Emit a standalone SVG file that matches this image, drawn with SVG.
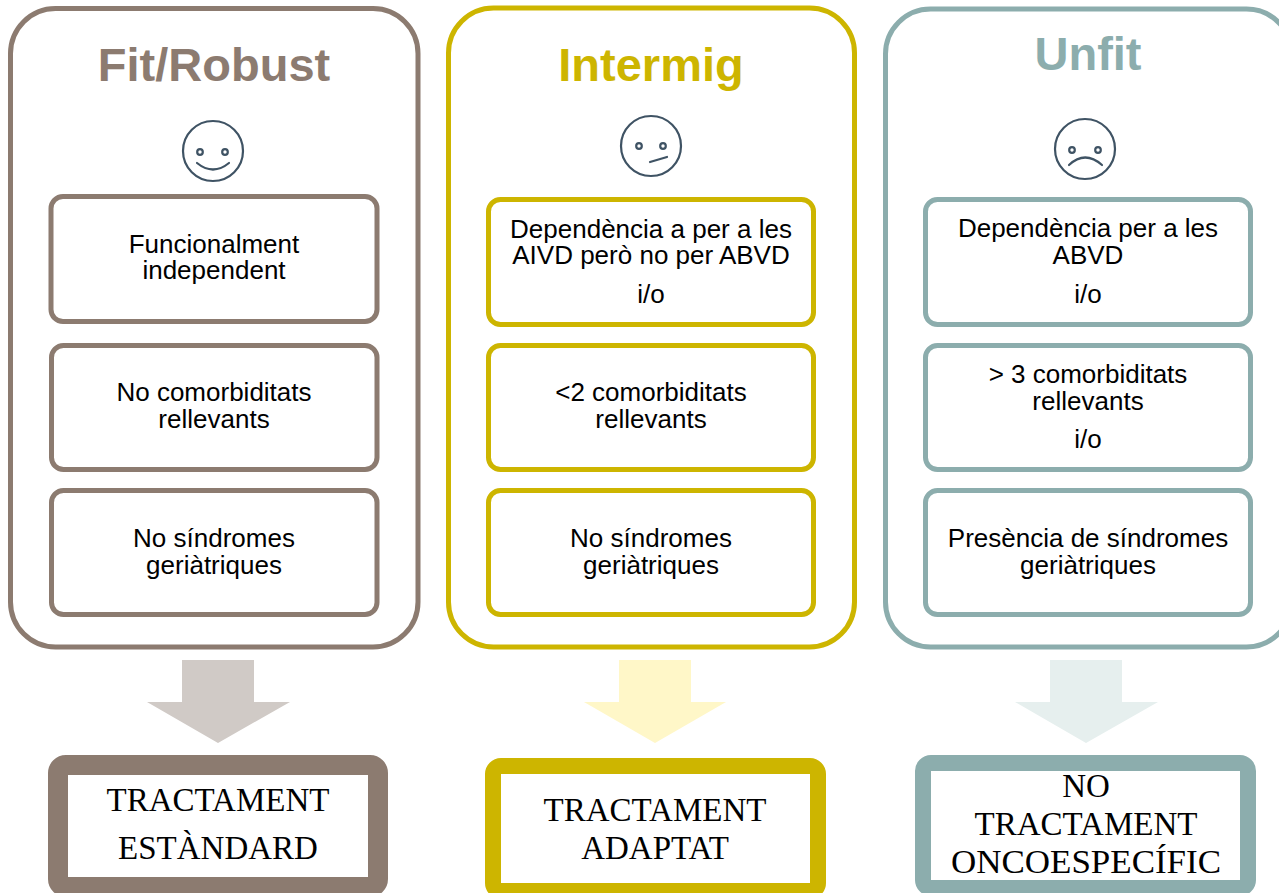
<svg xmlns="http://www.w3.org/2000/svg" width="1279" height="893" viewBox="0 0 1279 893">
<style>
.panel{fill:#fff;stroke-width:5}
.box{fill:#fff;stroke-width:5}
.brown{stroke:#8C7B70}
.gold{stroke:#CDB500}
.teal{stroke:#8CADAD}
.title{font-family:"Liberation Sans",Arial,sans-serif;font-weight:bold;font-size:47px;text-anchor:middle}
.t{font-family:"Liberation Sans",Arial,sans-serif;font-size:26px;fill:#000;text-anchor:middle}
.s{font-family:"Liberation Serif","Times New Roman",serif;font-size:33px;fill:#000;text-anchor:middle}
.face{fill:none;stroke:#3F5364;stroke-width:2.2;stroke-linecap:round}
.res{fill:#fff}
</style>
<rect width="1279" height="893" fill="#fff"/>

<g id="fit">
<rect class="panel brown" x="10.5" y="8.5" width="407.5" height="638.5" rx="45"/>
<text class="title" x="214" y="81" fill="#8C7B70">Fit/Robust</text>
<g class="face">
<circle cx="213" cy="151" r="30"/>
<circle cx="200" cy="152" r="2.8"/>
<circle cx="225" cy="152" r="2.8"/>
<path d="M197 163 Q213 176 229 163"/>
</g>
<rect class="box brown" x="51" y="196.5" width="326" height="125" rx="12"/>
<text class="t" x="214" y="253">Funcionalment</text>
<text class="t" x="214" y="279">independent</text>
<rect class="box brown" x="51.5" y="345.5" width="325.5" height="124" rx="12"/>
<text class="t" x="214" y="401">No comorbiditats</text>
<text class="t" x="214" y="428">rellevants</text>
<rect class="box brown" x="51.5" y="490.5" width="325.5" height="124" rx="12"/>
<text class="t" x="214" y="547">No síndromes</text>
<text class="t" x="214" y="574">geriàtriques</text>
</g>

<g id="intermig">
<rect class="panel gold" x="448.5" y="8" width="406" height="639" rx="45"/>
<text class="title" x="651" y="81" fill="#CDB500">Intermig</text>
<g class="face">
<circle cx="651" cy="146" r="30"/>
<circle cx="639" cy="146" r="2.8"/>
<circle cx="663" cy="146" r="2.8"/>
<path d="M650 162 L667 157"/>
</g>
<rect class="box gold" x="488.5" y="199.5" width="325" height="125" rx="12"/>
<text class="t" x="651" y="238">Dependència a per a les</text>
<text class="t" x="651" y="264">AIVD però no per ABVD</text>
<text class="t" x="651" y="303">i/o</text>
<rect class="box gold" x="488.5" y="345.5" width="325" height="124" rx="12"/>
<text class="t" x="651" y="401">&lt;2 comorbiditats</text>
<text class="t" x="651" y="428">rellevants</text>
<rect class="box gold" x="488.5" y="490.5" width="325" height="124" rx="12"/>
<text class="t" x="651" y="547">No síndromes</text>
<text class="t" x="651" y="574">geriàtriques</text>
</g>

<g id="unfit">
<rect class="panel teal" x="885.5" y="9" width="406" height="638" rx="45"/>
<text class="title" x="1088" y="70" fill="#8CADAD">Unfit</text>
<g class="face">
<circle cx="1085" cy="149" r="30"/>
<circle cx="1072" cy="150" r="2.8"/>
<circle cx="1098" cy="150" r="2.8"/>
<path d="M1069 165 Q1085 150 1102 165"/>
</g>
<rect class="box teal" x="925.5" y="199.5" width="325" height="125" rx="12"/>
<text class="t" x="1088" y="237">Dependència per a les</text>
<text class="t" x="1088" y="264">ABVD</text>
<text class="t" x="1088" y="303">i/o</text>
<rect class="box teal" x="925.5" y="345.5" width="325" height="124" rx="12"/>
<text class="t" x="1088" y="383">&gt; 3 comorbiditats</text>
<text class="t" x="1088" y="410">rellevants</text>
<text class="t" x="1088" y="448">i/o</text>
<rect class="box teal" x="925.5" y="490.5" width="325" height="124" rx="12"/>
<text class="t" x="1088" y="547">Presència de síndromes</text>
<text class="t" x="1088" y="574">geriàtriques</text>
</g>

<g id="connectors">
<polygon points="182,660 254,660 254,702 290,702 218,743 147,702 182,702" fill="#D0CAC6"/>
<polygon points="619,660 691,660 691,702 726,702 655,743 584,702 619,702" fill="#FFF7C8"/>
<polygon points="1050,660 1122,660 1122,702 1158,702 1086,743 1015,702 1050,702" fill="#E6EFEE"/>
</g>

<g id="estandard">
<rect class="res" x="58" y="765" width="320" height="122" rx="8" stroke="#8C7B70" stroke-width="20"/>
<text class="s" x="218" y="811">TRACTAMENT</text>
<text class="s" x="218" y="859">ESTÀNDARD</text>
</g>
<g id="adaptat">
<rect class="res" x="493" y="766" width="325" height="125" rx="8" stroke="#CDB500" stroke-width="16"/>
<text class="s" x="655" y="821">TRACTAMENT</text>
<text class="s" x="655" y="859">ADAPTAT</text>
</g>
<g id="no-tractament">
<rect class="res" x="923" y="763" width="325" height="125" rx="8" stroke="#8CADAD" stroke-width="16"/>
<text class="s" x="1086" y="797">NO</text>
<text class="s" x="1086" y="835">TRACTAMENT</text>
<text class="s" x="1086" y="873" textLength="270" lengthAdjust="spacingAndGlyphs">ONCOESPECÍFIC</text>
</g>
</svg>
